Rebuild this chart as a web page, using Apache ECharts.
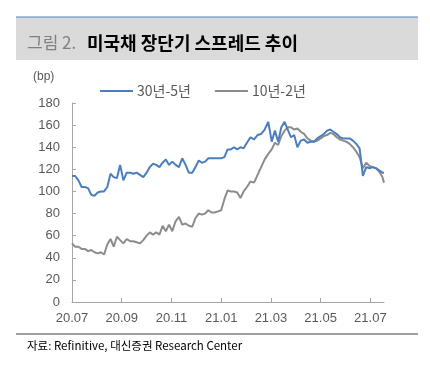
<!DOCTYPE html>
<html><head><meta charset="utf-8">
<script src="https://cdn.jsdelivr.net/npm/echarts@6/dist/echarts.min.js"></script>
<style>html,body{margin:0;padding:0;background:#fff}#c{width:430px;height:365px}</style>
</head><body><div id="c"></div>
<script>
const dates = ['2020-07-01','2020-07-05','2020-07-09','2020-07-13','2020-07-17','2020-07-21','2020-07-25','2020-07-29',
'2020-08-02','2020-08-06','2020-08-10','2020-08-14','2020-08-18','2020-08-22','2020-08-26','2020-08-30',
'2020-09-03','2020-09-07','2020-09-11','2020-09-15','2020-09-19','2020-09-23','2020-09-27',
'2020-10-01','2020-10-05','2020-10-09','2020-10-13','2020-10-17','2020-10-21','2020-10-25','2020-10-29',
'2020-11-02','2020-11-06','2020-11-10','2020-11-14','2020-11-18','2020-11-22','2020-11-26','2020-11-30',
'2020-12-04','2020-12-08','2020-12-12','2020-12-16','2020-12-20','2020-12-24','2020-12-28',
'2021-01-01','2021-01-05','2021-01-09','2021-01-13','2021-01-17','2021-01-21','2021-01-25','2021-01-29',
'2021-02-02','2021-02-06','2021-02-10','2021-02-14','2021-02-18','2021-02-22','2021-02-26',
'2021-03-02','2021-03-06','2021-03-10','2021-03-14','2021-03-18','2021-03-22','2021-03-26','2021-03-30',
'2021-04-03','2021-04-07','2021-04-11','2021-04-15','2021-04-19','2021-04-23','2021-04-27',
'2021-05-01','2021-05-05','2021-05-09','2021-05-13','2021-05-17','2021-05-21','2021-05-25','2021-05-29',
'2021-06-02','2021-06-06','2021-06-10','2021-06-14','2021-06-18','2021-06-22','2021-06-26','2021-06-30',
'2021-07-04','2021-07-08','2021-07-12','2021-07-16','2021-07-18'];
const spread30y5y = [114,114,110,104,104,103,97,96,99,100,100,104,116,113,112,124,
110,117,117,116,117,115,113,117,122,125,124,122,126,129,124,
127,124,122,130,124,117,117,122,128,126,127,130,130,130,130,
130,131,138,138,140,138,140,139,144,149,147,151,152,156,163,
145,155,145,158,163,156,149,151,140,146,147,144,145,145,148,
150,152,155,156,154,152,149,148,148,148,146,143,139,114,122,121,
122,121,119,117,117];
const spread10y2y = [53,50,50,48,48,46,47,45,44,45,43,52,57,50,59,56,
53,57,55,55,54,53,56,60,63,61,63,61,69,64,70,
64,73,77,70,71,69,68,76,80,79,80,83,81,81,82,
83,93,101,100,100,99,94,100,104,109,108,115,122,129,134,
138,144,142,150,155,158,158,156,157,154,152,148,146,145,146,
148,150,151,153,152,149,147,146,145,143,140,136,131,121,126,123,
122,121,118,113,108];
const seriesNames = ['30년-5년','10년-2년'];
const xTickLabels = ['20.07','20.09','20.11','21.01','21.03','21.05','21.07'];
const yTicks = [0,20,40,60,80,100,120,140,160,180];

function toM(s){const p=s.split('-').map(Number);const dim=new Date(p[0],p[1],0).getDate();return (p[0]-2020)*12+(p[1]-7)+(p[2]-1)/dim;}
const xs = dates.map(toM);
const d1 = xs.map((x,i)=>[x,spread30y5y[i]]);
const d2 = xs.map((x,i)=>[x,spread10y2y[i]]);
const tickVals = xTickLabels.map((_,i)=>i*2);
const FONT = "'Liberation Sans','Noto Sans CJK KR',sans-serif";
const KFONT = "'Noto Sans CJK KR','Liberation Sans',sans-serif";

const chart = echarts.init(document.getElementById('c'), null, {renderer:'canvas'});
chart.setOption({
  animation:false,
  backgroundColor:'#fff',
  graphic:[
    {type:'rect',shape:{x:16,y:17,width:402,height:43},style:{fill:'#dadada'},silent:true},
    {type:'line',shape:{x1:16,y1:17,x2:418,y2:17},style:{stroke:'#4f81bd',lineWidth:1.2},silent:true},
    {type:'text',x:27,y:43,style:{text:'그림 2.',fill:'#808080',font:"17px "+KFONT,verticalAlign:'middle'}},
    {type:'text',x:87,y:43,style:{text:'미국채 장단기 스프레드 추이',fill:'#000',font:"bold 18px "+KFONT,verticalAlign:'middle'}},
    {type:'text',x:33,y:77,style:{text:'(bp)',fill:'#595959',font:"12px "+FONT,verticalAlign:'middle'}},
    {type:'line',shape:{x1:16,y1:334,x2:418,y2:334},style:{stroke:'#7f7f7f',lineWidth:1.5},silent:true},
    {type:'text',x:27,y:346,style:{text:'자료: Refinitive, 대신증권 Research Center',fill:'#000',font:"11.5px "+KFONT,verticalAlign:'middle'}}
  ],
  legend:{
    top:79, left:95, itemWidth:33, itemHeight:2, itemGap:24,
    icon:'rect',
    textStyle:{color:'#595959',fontSize:14,fontFamily:KFONT,padding:[0,0,0,-1]},
    data:seriesNames
  },
  grid:{left:72,right:46,top:103,bottom:63},
  xAxis:{
    type:'value', min:0, max:toM('2021-07-18'),
    axisLine:{lineStyle:{color:'#a6a6a6',width:1}},
    axisTick:{show:true,inside:true,length:4,lineStyle:{color:'#a6a6a6'},customValues:tickVals},
    axisLabel:{color:'#595959',fontSize:13,fontFamily:FONT,margin:10,customValues:tickVals,
      formatter:v=>xTickLabels[Math.round(v/2)]||''},
    splitLine:{show:false}
  },
  yAxis:{
    type:'value', min:0, max:180, interval:20,
    axisLine:{show:true,lineStyle:{color:'#a6a6a6',width:1}},
    axisTick:{show:true,inside:true,length:4,lineStyle:{color:'#a6a6a6'}},
    axisLabel:{color:'#595959',fontSize:13,fontFamily:FONT,margin:12,customValues:yTicks},
    splitLine:{show:false}
  },
  series:[
    {name:seriesNames[0],type:'line',data:d1,showSymbol:false,symbol:'none',z:3,
     lineStyle:{color:'#4a7ebf',width:2},itemStyle:{color:'#4a7ebf'}},
    {name:seriesNames[1],type:'line',data:d2,showSymbol:false,symbol:'none',z:2,
     lineStyle:{color:'#8c8c8c',width:2},itemStyle:{color:'#8c8c8c'}}
  ]
});
</script></body></html>
